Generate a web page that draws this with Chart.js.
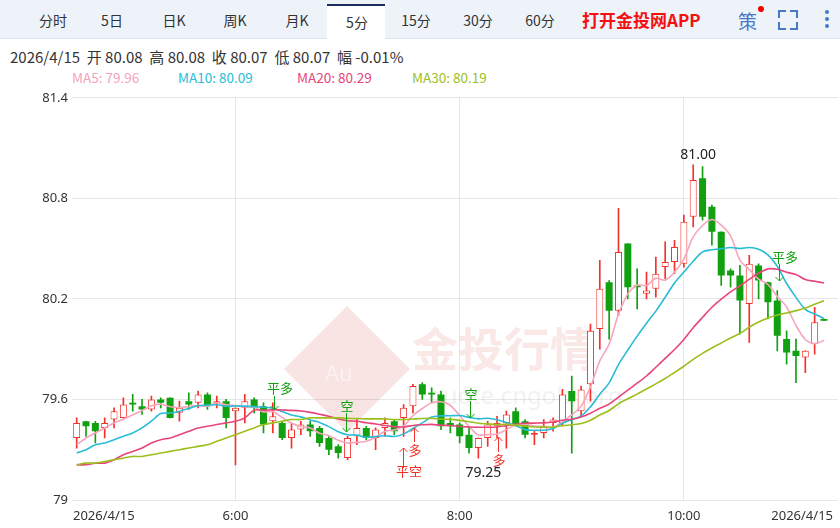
<!DOCTYPE html>
<html><head><meta charset="utf-8">
<script src="https://cdn.jsdelivr.net/npm/chart.js@4.4.1/dist/chart.umd.min.js"></script>
<style>
body{margin:0;width:840px;height:528px;overflow:hidden;background:#fff;font-family:"Noto Sans CJK SC","Noto Sans",sans-serif;position:relative}
#tabs{position:absolute;left:0;top:0;width:840px;height:38px;background:#eef3fa;border-bottom:1px solid #dde3ec}
.t{position:absolute;top:10px;font-size:14px;color:#333;transform:translateX(-50%)}
#sel{position:absolute;left:327px;top:4px;width:58px;height:35px;background:#fff;border-top:2px solid #1c2c5c}
#info{position:absolute;left:10px;top:46px;font-size:15px;color:#333;white-space:pre}
#ma{position:absolute;top:67px;font-size:13.5px;white-space:pre}
#wrap{position:absolute;left:0;top:86px;width:840px;height:442px}
.br{position:absolute;width:6px;height:6px;border-color:#4a78c8;border-style:solid;border-width:0}
.dot{position:absolute;left:825px;width:4px;height:4px;border-radius:2px;background:#4a78c8}
</style></head><body>
<div id="tabs"><div id="sel"></div>
<span class="t" style="left:53px">分时</span><span class="t" style="left:112px">5日</span><span class="t" style="left:174px">日K</span><span class="t" style="left:235px">周K</span><span class="t" style="left:297px">月K</span><span class="t" style="left:357px;top:12px">5分</span><span class="t" style="left:416px">15分</span><span class="t" style="left:478px">30分</span><span class="t" style="left:540px">60分</span>
<span style="position:absolute;left:582px;top:7px;font-size:17px;font-weight:bold;color:#f41010">打开金投网APP</span>
<span style="position:absolute;left:738px;top:7px;font-size:19px;color:#4a78c8">策</span><span style="position:absolute;left:758px;top:6px;width:6px;height:6px;border-radius:3px;background:#e00"></span>
<span class="br" style="left:778px;top:10px;border-left-width:2px;border-top-width:2px"></span><span class="br" style="left:790px;top:10px;border-right-width:2px;border-top-width:2px"></span>
<span class="br" style="left:778px;top:22px;border-left-width:2px;border-bottom-width:2px"></span><span class="br" style="left:790px;top:22px;border-right-width:2px;border-bottom-width:2px"></span>
<span class="dot" style="top:10px"></span><span class="dot" style="top:17px"></span><span class="dot" style="top:24px"></span>
</div>
<div id="info">2026/4/15  开 80.08  高 80.08  收 80.07  低 80.07  幅 -0.01%</div>
<div id="ma"><span style="position:absolute;left:72px;color:#f4a3bd">MA5: 79.96</span><span style="position:absolute;left:178px;color:#29bcd6">MA10: 80.09</span><span style="position:absolute;left:297px;color:#e8457a">MA20: 80.29</span><span style="position:absolute;left:412px;color:#9cbf1c">MA30: 80.19</span></div>
<div id="wrap"><canvas id="c"></canvas></div>
<script>
const opens=[79.37,79.47,79.46,79.43,79.48,79.49,79.58,79.56,79.54,79.60,79.61,79.52,79.59,79.58,79.63,79.58,79.59,79.53,79.55,79.60,79.56,79.47,79.46,79.37,79.42,79.45,79.43,79.37,79.32,79.25,79.38,79.43,79.37,79.43,79.47,79.49,79.56,79.69,79.64,79.63,79.46,79.45,79.39,79.31,79.37,79.44,79.46,79.53,79.47,79.39,79.40,79.46,79.46,79.65,79.53,79.69,80.02,80.30,80.13,80.53,80.28,80.23,80.26,80.39,80.42,80.41,80.69,80.92,80.75,80.60,80.37,80.34,80.17,80.40,80.30,80.19,79.96,79.89,79.85,79.93,80.08];
const closes=[79.46,79.44,79.41,79.46,79.53,79.57,79.57,79.54,79.60,79.58,79.49,79.55,79.57,79.63,79.56,79.59,79.49,79.55,79.59,79.55,79.45,79.50,79.37,79.42,79.45,79.41,79.34,79.30,79.28,79.37,79.43,79.37,79.42,79.46,79.41,79.55,79.68,79.63,79.63,79.44,79.44,79.38,79.31,79.37,79.45,79.46,79.51,79.45,79.39,79.40,79.44,79.48,79.63,79.59,79.66,80.01,80.26,80.13,80.48,80.27,80.27,80.25,80.35,80.42,80.51,80.66,80.91,80.69,80.60,80.34,80.34,80.19,80.41,80.31,80.18,79.98,79.88,79.86,79.89,80.06,80.07];
const highs=[79.49,79.47,79.47,79.49,79.55,79.61,79.63,79.60,79.62,79.61,79.61,79.59,79.64,79.65,79.64,79.62,79.60,79.55,79.63,79.61,79.58,79.58,79.47,79.46,79.47,79.47,79.44,79.38,79.33,79.38,79.48,79.44,79.43,79.49,79.48,79.57,79.69,79.70,79.67,79.65,79.49,79.46,79.44,79.37,79.47,79.50,79.53,79.55,79.48,79.41,79.48,79.49,79.66,79.74,79.68,80.05,80.43,80.31,80.74,80.53,80.38,80.36,80.45,80.54,80.55,80.70,81.00,80.99,80.76,80.60,80.38,80.40,80.46,80.41,80.30,80.25,80.01,79.96,79.89,80.15,80.08];
const lows=[79.31,79.38,79.34,79.37,79.43,79.49,79.53,79.51,79.53,79.55,79.49,79.47,79.54,79.55,79.54,79.55,79.43,79.21,79.46,79.52,79.40,79.40,79.36,79.31,79.39,79.38,79.32,79.27,79.25,79.24,79.33,79.36,79.30,79.38,79.39,79.38,79.52,79.60,79.58,79.42,79.40,79.34,79.28,79.25,79.32,79.37,79.31,79.44,79.37,79.33,79.37,79.41,79.45,79.28,79.50,79.59,79.90,79.96,80.10,80.20,80.14,80.20,80.21,80.32,80.35,80.39,80.63,80.67,80.52,80.28,80.27,79.99,79.94,80.20,80.08,79.89,79.81,79.70,79.76,79.87,80.07];
// MA values before a full window is available
const ma5Start=[79.33,79.37,79.40,79.43];
const ma10Start=[79.28,79.30,79.33,79.34,79.36,79.38,79.40,79.43,79.47];
const ma20Start=[79.21,79.21,79.22,79.22,79.24,79.27,79.29,79.31,79.34,79.36,79.37,79.39,79.41,79.43,79.44,79.45,79.46,79.47,79.49];
const ma30Start=[79.21,79.22,79.22,79.23,79.24,79.25,79.26,79.26,79.27,79.28,79.29,79.30,79.31,79.32,79.33,79.35,79.37,79.39,79.41,79.43,79.45,79.46,79.47,79.48,79.48,79.49,79.49,79.49,79.49];
const timeLabels=[[0,'2026/4/15'],[17,'6:00'],[41,'8:00'],[65,'10:00'],[80,'2026/4/15']];
const yTicks=[79,79.6,80.2,80.8,81.4];
const lowMarkIndex=43, highMarkIndex=66;

function ma(n,start){return closes.map((c,i)=>{if(i<n-1)return start[i];let s=0;for(let k=i-n+1;k<=i;k++)s+=closes[k];return +(s/n).toFixed(3);});}
const N=closes.length;const labels=[...Array(N+1).keys()].map(String);
const RED='#f4312a',GREEN='#10a010';
const up=closes.map((c,i)=>c>=opens[i]);
const lineDs=(d,col)=>({type:'line',data:d,borderColor:col,borderWidth:1.6,pointRadius:0,tension:0.3,order:0});
const notes=[
 {t:'平多',c:GREEN,ty:388,ay1:396,ay2:410,dir:'down',ax:274},
 {t:'空',c:GREEN,ty:406,ay1:413,ay2:432,dir:'down',ax:346},
 {t:'多',c:RED,ty:450,ay1:442,ay2:428,dir:'up',ax:414},
 {t:'平空',c:RED,ty:471,ay1:468,ay2:448,dir:'up',ax:403},
 {t:'空',c:GREEN,ty:394,ay1:401,ay2:418,dir:'down',ax:470},
 {t:'多',c:RED,ty:460,ay1:452,ay2:437,dir:'up',ax:498},
 {t:'平多',c:GREEN,ty:257,ay1:264,ay2:281,dir:'down',ax:779}
];
const deco={id:'deco',beforeDatasetsDraw(ch){const c=ch.ctx;c.save();
 c.globalAlpha=0.13;c.fillStyle='#d04a3a';c.font='bold 46px "Noto Sans CJK SC"';c.fillText('金投行情',412,280);
 c.font='24px "Noto Sans"';c.globalAlpha=0.12;c.fillStyle='#888';c.fillText('quote.cngold.org',428,318);
 c.globalAlpha=0.15;c.fillStyle='#d04a3a';c.beginPath();c.moveTo(347,220);c.lineTo(410,283);c.lineTo(347,346);c.lineTo(284,283);c.closePath();c.fill();
 c.globalAlpha=0.5;c.fillStyle='#fff';c.font='22px "Noto Sans"';c.fillText('Au',325,295);c.restore();},
 afterDatasetsDraw(ch){const c=ch.ctx,x=ch.scales.x,y=ch.scales.y,a=ch.chartArea;c.save();
 c.font='13px "Noto Sans CJK SC"';c.textBaseline='middle';
 notes.forEach(n=>{const off=86;c.fillStyle=n.c;c.strokeStyle=n.c;c.lineWidth=1;c.textAlign='center';
  c.fillText(n.t,n.ax+(n.t.length>1?6:1),n.ty-off);
  c.beginPath();c.moveTo(n.ax+0.5,n.ay1-off);c.lineTo(n.ax+0.5,n.ay2-off);c.stroke();
  const h=n.ay2-off,d=n.dir==='down'?-1:1;c.beginPath();c.moveTo(n.ax-3.5,h+4*d);c.lineTo(n.ax+0.5,h);c.lineTo(n.ax+4.5,h+4*d);c.stroke();});
 c.fillStyle='#222';c.font='14px "Noto Sans"';c.textAlign='center';
 c.fillText(lows[lowMarkIndex].toFixed(2),x.getPixelForValue(lowMarkIndex)+5,y.getPixelForValue(lows[lowMarkIndex])+15);
 c.fillText(highs[highMarkIndex].toFixed(2),x.getPixelForValue(highMarkIndex)+5,y.getPixelForValue(highs[highMarkIndex])-10);
 c.font='13px "Noto Sans"';c.fillStyle='#333';c.textBaseline='top';
 timeLabels.forEach(([i,t],k)=>{const px=x.getPixelForValue(i);c.textAlign=k===0?'left':(k===timeLabels.length-1?'right':'center');c.fillText(t,k===0?a.left+1:(k===timeLabels.length-1?a.right-5:px),a.bottom+10);});
 c.restore();}};
new Chart(document.getElementById('c'),{type:'bar',data:{labels,datasets:[
 {data:lows.map((l,i)=>[l,highs[i]]),backgroundColor:up.map(u=>u?RED:GREEN),barThickness:1,grouped:false,order:3},
 {data:opens.map((o,i)=>[o,closes[i]]),backgroundColor:up.map(u=>u?'#fff':GREEN),borderColor:up.map(u=>u?RED:GREEN),borderWidth:up.map(u=>u?1:0),borderSkipped:false,barPercentage:0.75,categoryPercentage:1,minBarLength:1.5,grouped:false,order:2},
 lineDs(ma(30,ma30Start),'#9cbf1c'),lineDs(ma(20,ma20Start),'#e8457a'),lineDs(ma(10,ma10Start),'#29bcd6'),lineDs(ma(5,ma5Start),'#f6a5bf')
]},options:{responsive:true,maintainAspectRatio:false,animation:false,events:[],layout:{padding:{top:0,right:2}},
 plugins:{legend:{display:false},tooltip:{enabled:false}},
 scales:{x:{grid:{offset:false,color:ctx=>[17,41,65].includes(ctx.index)?'#e6e6e6':'rgba(0,0,0,0)',drawTicks:false},border:{display:false},ticks:{display:false},afterFit:s=>{s.height=28;}},
  y:{min:79,max:81.4,afterBuildTicks:s=>{s.ticks=yTicks.map(v=>({value:v}));},grid:{color:'#e6e6e6',drawTicks:false},border:{display:false},
   ticks:{padding:4,color:'#333',font:{size:13,family:'Noto Sans'},callback:v=>String(+v.toFixed(1))},afterFit:s=>{s.width=72;}}}},
 plugins:[deco]});
</script></body></html>
